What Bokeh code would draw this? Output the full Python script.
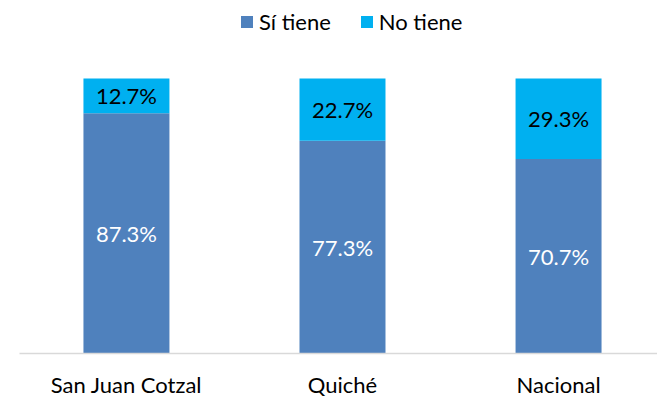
import numpy as np
from bokeh.plotting import figure
from bokeh.models import ColumnDataSource, Legend, LegendItem, FixedTicker, Range1d
from bokeh.core.properties import value
from bokeh.embed import file_html
from bokeh.resources import INLINE

categories = ["San Juan Cotzal", "Quiché", "Nacional"]
si_tiene = [87.3, 77.3, 70.7]
no_tiene = [12.7, 22.7, 29.3]
series_names = ["Sí tiene", "No tiene"]
colors = ["#4F81BD", "#00B0F0"]

FONT = "Lato"

x = np.arange(len(categories))
si = np.array(si_tiene)
no = np.array(no_tiene)

src = ColumnDataSource(dict(
    x=x, si=si, no=no,
    si_y=si / 2, no_y=si + no / 2,
    si_lbl=[f"{v:.1f}%" for v in si],
    no_lbl=[f"{v:.1f}%" for v in no],
))

p = figure(width=657, height=400, output_backend="svg", toolbar_location=None,
           x_range=Range1d(-0.495, 2.458), y_range=Range1d(0, 125.4),
           min_border_left=19, min_border_right=0, min_border_top=8, min_border_bottom=46)
p.outline_line_color = None
p.grid.visible = False
p.yaxis.visible = False

r = p.vbar_stack(["si", "no"], x="x", width=0.398, color=colors, source=src, line_color=None)

p.text(x="x", y="si_y", text="si_lbl", source=src, text_color="white",
       text_font=value(FONT), text_font_size="22px", text_align="center", text_baseline="middle")
p.text(x="x", y="no_y", text="no_lbl", source=src, text_color="black",
       text_font=value(FONT), text_font_size="22px", text_align="center", text_baseline="middle")

xa = p.xaxis[0]
xa.ticker = FixedTicker(ticks=list(x))
xa.major_label_overrides = {int(i): c for i, c in zip(x, categories)}
xa.major_tick_line_color = None
xa.minor_tick_line_color = None
xa.major_tick_out = 0
xa.major_tick_in = 0
xa.axis_line_color = "#D9D9D9"
xa.axis_line_width = 1.5
xa.major_label_text_font = FONT
xa.major_label_text_font_size = "22px"
xa.major_label_text_color = "black"
xa.major_label_standoff = 17

legend = Legend(items=[LegendItem(label=n, renderers=[rr]) for n, rr in zip(series_names, r)],
                orientation="horizontal", location=(220, 318),
                glyph_width=15, glyph_height=15, label_standoff=5, spacing=28,
                label_text_font=FONT, label_text_font_size="22px", label_text_color="black",
                border_line_color=None, background_fill_alpha=0, padding=0, margin=0)
p.add_layout(legend, "center")

open("out.html", "w").write(file_html(p, INLINE))
